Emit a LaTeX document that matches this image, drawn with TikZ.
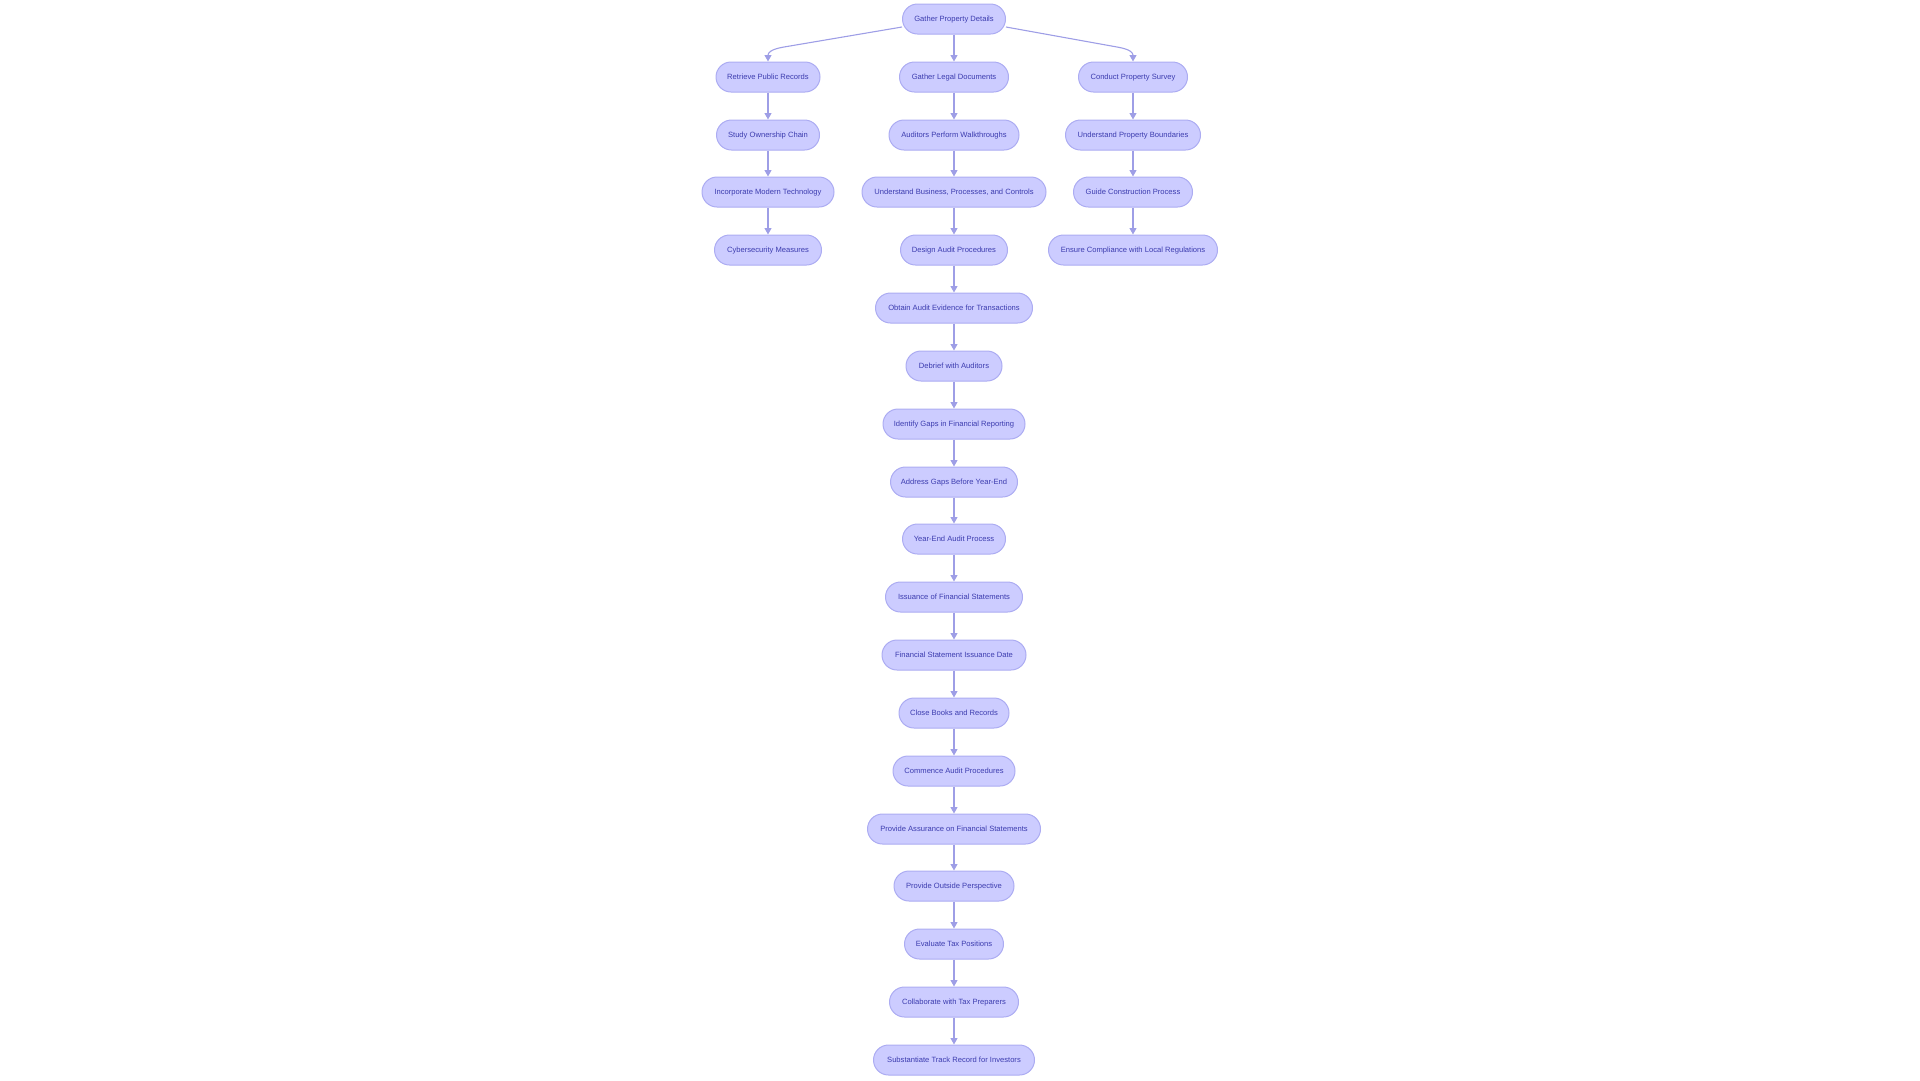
\documentclass[tikz,border=0pt]{standalone}
\usepackage{fontspec}
\setmainfont{Liberation Sans}
\usetikzlibrary{arrows.meta}
\definecolor{nfill}{RGB}{204,204,255}
\definecolor{nborder}{RGB}{172,172,242}
\definecolor{ntext}{RGB}{60,60,175}
\definecolor{nedge}{RGB}{158,158,230}
\tikzset{
  box/.style={draw=nborder, fill=nfill, line width=1pt, rounded corners=15pt,
    minimum height=30pt, inner sep=0pt, text=ntext, text height=5.6pt, text depth=0.4pt,
    font=\fontsize{7.6}{9}\selectfont},
  edge/.style={draw=nedge, line width=1.1pt, -{Triangle[width=7pt,length=6.5pt]}}
}
\begin{document}
\begin{tikzpicture}[x=1pt,y=-1pt]
\useasboundingbox (0,0) rectangle (1920,1080);
% rows: y = 19 + 57.83 i
\node[box, minimum width=103] (g)  at (954,19) {Gather Property Details};
% left column
\node[box, minimum width=104] (l1) at (768,77) {Retrieve Public Records};
\node[box, minimum width=103] (l2) at (768,135) {Study Ownership Chain};
\node[box, minimum width=132] (l3) at (768,192) {Incorporate Modern Technology};
\node[box, minimum width=107] (l4) at (768,250) {Cybersecurity Measures};
% right column
\node[box, minimum width=109] (r1) at (1133,77) {Conduct Property Survey};
\node[box, minimum width=135] (r2) at (1133,135) {Understand Property Boundaries};
\node[box, minimum width=119] (r3) at (1133,192) {Guide Construction Process};
\node[box, minimum width=169] (r3b) at (1133,250) {Ensure Compliance with Local Regulations};
% middle column
\node[box, minimum width=109] (m1) at (954,77) {Gather Legal Documents};
\node[box, minimum width=130] (m2) at (954,135) {Auditors Perform Walkthroughs};
\node[box, minimum width=184] (m3) at (954,192) {Understand Business, Processes, and Controls};
\node[box, minimum width=107] (m4) at (954,250) {Design Audit Procedures};
\node[box, minimum width=157] (m5) at (954,308) {Obtain Audit Evidence for Transactions};
\node[box, minimum width=96]  (m6) at (954,366) {Debrief with Auditors};
\node[box, minimum width=142] (m7) at (954,424) {Identify Gaps in Financial Reporting};
\node[box, minimum width=127] (m8) at (954,482) {Address Gaps Before Year-End};
\node[box, minimum width=103] (m9) at (954,539) {Year-End Audit Process};
\node[box, minimum width=137] (m10) at (954,597) {Issuance of Financial Statements};
\node[box, minimum width=144] (m11) at (954,655) {Financial Statement Issuance Date};
\node[box, minimum width=110] (m12) at (954,713) {Close Books and Records};
\node[box, minimum width=122] (m13) at (954,771) {Commence Audit Procedures};
\node[box, minimum width=173] (m14) at (954,829) {Provide Assurance on Financial Statements};
\node[box, minimum width=120] (m15) at (954,886) {Provide Outside Perspective};
\node[box, minimum width=99]  (m16) at (954,944) {Evaluate Tax Positions};
\node[box, minimum width=129] (m17) at (954,1002) {Collaborate with Tax Preparers};
\node[box, minimum width=161] (m18) at (954,1060) {Substantiate Track Record for Investors};
% branch edges
\draw[edge] ([yshift=-8pt]g.west) -- (784,47) .. controls (770.2,49.3) and (768,53) .. (l1.north);
\draw[edge] ([yshift=-8pt]g.east) -- (1117,47) .. controls (1130.8,49.3) and (1133,53) .. (r1.north);
\draw[edge] (g) -- (m1);
% left
\draw[edge] (l1) -- (l2);
\draw[edge] (l2) -- (l3);
\draw[edge] (l3) -- (l4);
% right
\draw[edge] (r1) -- (r2);
\draw[edge] (r2) -- (r3);
\draw[edge] (r3) -- (r3b);
% middle
\foreach \a/\b in {m1/m2,m2/m3,m3/m4,m4/m5,m5/m6,m6/m7,m7/m8,m8/m9,m9/m10,m10/m11,m11/m12,m12/m13,m13/m14,m14/m15,m15/m16,m16/m17,m17/m18}
  \draw[edge] (\a) -- (\b);
\end{tikzpicture}
\end{document}
